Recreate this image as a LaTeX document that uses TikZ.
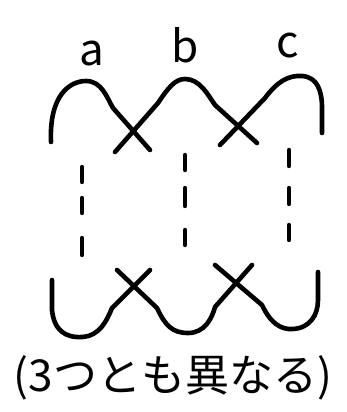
\documentclass[tikz,border=0pt]{standalone}
\usepackage{fontspec}
\newfontfamily\jpfont{Noto Sans CJK JP}
\usetikzlibrary{positioning}

\begin{document}
\begin{tikzpicture}[
    x=1pt, y=-1pt,
    strand/.style={line width=4.6pt, line cap=round, line join=round, black},
    dashmark/.style={line width=4.4pt, line cap=round, black},
    lbl/.style={font=\jpfont\fontsize{44}{44}\selectfont, inner sep=0pt},
    note/.style={font=\jpfont\fontsize{44}{44}\selectfont, inner sep=0pt}
  ]
    \useasboundingbox (0,0) rectangle (346,412);
    % labels
    \node[lbl] (la) at (92,54) {a};
    \node[lbl] (lb) at (185,45) {b};
    \node[lbl] (lc) at (288,46) {c};
    % top strands
    \draw[strand] (51,142) .. controls (49,95) and (70,81) .. (86,81)
      .. controls (102,81) and (107,98) .. (113,108) -- (150,150);
    \draw[strand] (115,152) -- (158,103) .. controls (168,88) and (175,79) .. (185,79)
      .. controls (200,79) and (208,95) .. (215,105) -- (257,143);
    \draw[strand] (220,145) -- (265,98) .. controls (277,82) and (288,75) .. (302,76)
      .. controls (318,77) and (322,92) .. (322,108) -- (322,133);
    % dashed links
    \foreach \x/\a/\b in {82/167/182, 82/198/213, 82/238/255,
                          185/155/170, 185/188/206, 185/230/245,
                          289/150/166, 289/188/204, 289/225/240}
      \draw[dashmark] (\x,\a) -- (\x,\b);
    % bottom strands
    \draw[strand] (52,280) -- (52,310) .. controls (54,330) and (65,338) .. (82,337)
      .. controls (100,336) and (107,320) .. (112,308) -- (150,270);
    \draw[strand] (117,270) -- (157,308) .. controls (165,325) and (172,333) .. (188,333)
      .. controls (205,333) and (212,318) .. (215,307) -- (252,265);
    \draw[strand] (215,265) -- (262,305) .. controls (270,322) and (280,330) .. (293,329)
      .. controls (310,328) and (318,315) .. (318,300) -- (318,272);
    % caption
    \node[note] (cap) at (173,378) {(3つとも異なる)};
  \end{tikzpicture}
\end{document}
